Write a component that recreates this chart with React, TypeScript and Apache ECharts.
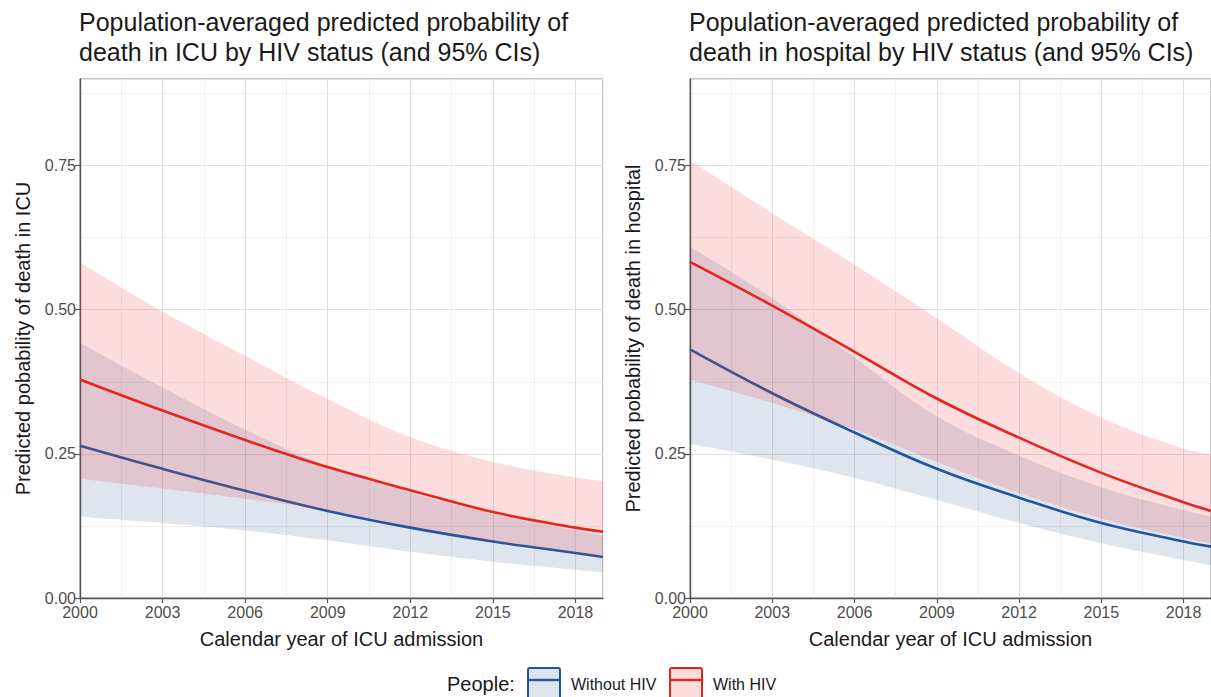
import React, { useEffect, useRef } from "react";
import * as echarts from "echarts";

// ---------- data ----------
const years = [2000, 2003, 2006, 2009, 2012, 2015, 2018, 2019];
const xTickLabels = [2000, 2003, 2006, 2009, 2012, 2015, 2018];
const yTickLabels = [0, 0.25, 0.5, 0.75];

// Panel 1: death in ICU
const icuWithHivMean = [0.379, 0.325, 0.274, 0.227, 0.187, 0.149, 0.122, 0.115];
const icuWithHivUpper = [0.582, 0.497, 0.42, 0.345, 0.279, 0.236, 0.209, 0.203];
const icuWithHivLower = [0.207, 0.19, 0.172, 0.152, 0.124, 0.099, 0.078, 0.071];
const icuWithoutMean = [0.264, 0.224, 0.186, 0.151, 0.122, 0.098, 0.078, 0.071];
const icuWithoutUpper = [0.442, 0.365, 0.292, 0.228, 0.183, 0.146, 0.117, 0.109];
const icuWithoutLower = [0.141, 0.13, 0.117, 0.1, 0.08, 0.063, 0.049, 0.044];

// Panel 2: death in hospital
const hospWithHivMean = [0.583, 0.507, 0.427, 0.346, 0.278, 0.217, 0.166, 0.151];
const hospWithHivUpper = [0.759, 0.667, 0.578, 0.485, 0.39, 0.313, 0.259, 0.25];
const hospWithHivLower = [0.379, 0.338, 0.292, 0.236, 0.182, 0.138, 0.104, 0.095];
const hospWithoutMean = [0.431, 0.355, 0.287, 0.224, 0.174, 0.13, 0.098, 0.089];
const hospWithoutUpper = [0.609, 0.52, 0.417, 0.315, 0.247, 0.192, 0.152, 0.141];
const hospWithoutLower = [0.267, 0.24, 0.208, 0.17, 0.13, 0.095, 0.066, 0.057];

const titles = [
  "Population-averaged predicted probability of\ndeath in ICU by HIV status (and 95% CIs)",
  "Population-averaged predicted probability of\ndeath in hospital by HIV status (and 95% CIs)",
];
const yNames = [
  "Predicted pobability of death in ICU",
  "Predicted pobability of death in hospital",
];
const xName = "Calendar year of ICU admission";
const legendTitle = "People:";
const groupNames = ["Without HIV", "With HIV"];

// ---------- styles ----------
const FONT = "'Liberation Sans', Arial, Helvetica, sans-serif";
const BLUE = "#23559c";
const RED = "#e3261e";
const BLUE_FILL = "rgba(40,80,150,0.15)";
const RED_FILL = "rgba(240,60,60,0.18)";
const MAJOR = "#e0e0e0";
const MINOR = "#efefef";
const AXIS = "#555555";
const YEAR_SCALE = 1000; // hidden linear "time" axis used so that bands stack on y

const panels = [
  {
    left: 80,
    withMean: icuWithHivMean, withUpper: icuWithHivUpper, withLower: icuWithHivLower,
    woMean: icuWithoutMean, woUpper: icuWithoutUpper, woLower: icuWithoutLower,
  },
  {
    left: 690,
    withMean: hospWithHivMean, withUpper: hospWithHivUpper, withLower: hospWithHivLower,
    woMean: hospWithoutMean, woUpper: hospWithoutUpper, woLower: hospWithoutLower,
  },
];

const pts = (arr: number[]) => years.map((y, i) => [y * YEAR_SCALE, arr[i]]);
const diff = (hi: number[], lo: number[]) =>
  years.map((y, i) => [y * YEAR_SCALE, +(hi[i] - lo[i]).toFixed(4)]);

function buildOption() {
  const grid: any[] = [];
  const xAxis: any[] = [];
  const yAxis: any[] = [];
  const series: any[] = [];
  const title: any[] = [];

  panels.forEach((p, k) => {
    grid.push({
      left: p.left, top: 79, width: 523, height: 519,
      show: true, borderColor: "#8a8a8a", borderWidth: 1, backgroundColor: "transparent",
    });
    title.push({
      text: titles[k], left: p.left - 1, top: 7, padding: 0,
      textStyle: { fontSize: 25, fontWeight: "normal", color: "#1a1a1a", lineHeight: 30, fontFamily: FONT },
    });
    // x: grid lines
    xAxis.push({
      type: "value", gridIndex: k, min: 2000, max: 2019, interval: 1.5, position: "bottom",
      axisLine: { show: false }, axisTick: { show: false }, axisLabel: { show: false },
      splitLine: { show: true, lineStyle: { color: [MAJOR, MINOR], width: 1 } },
    });
    // x: labels & ticks
    xAxis.push({
      type: "value", gridIndex: k, min: 2000, max: 2019, interval: 3, position: "bottom",
      axisLine: { show: true, onZero: false, lineStyle: { color: AXIS, width: 1.4 } },
      axisTick: { show: true, length: 5, lineStyle: { color: AXIS, width: 1.2 }, customValues: xTickLabels },
      axisLabel: {
        customValues: xTickLabels, color: "#4d4d4d", fontSize: 16, margin: 6, fontFamily: FONT,
        formatter: (v: number) => ((v - 2000) % 3 === 0 && v <= 2018 ? String(v) : ""),
      },
      splitLine: { show: false },
      name: xName, nameLocation: "middle", nameGap: 31,
      nameTextStyle: { fontSize: 20, color: "#1a1a1a", fontFamily: FONT },
    });
    // x: hidden linear axis carrying the series
    xAxis.push({
      type: "time", gridIndex: k, min: 2000 * YEAR_SCALE, max: 2019 * YEAR_SCALE, show: false,
    });
    // y: grid lines
    yAxis.push({
      type: "value", gridIndex: k, min: 0, max: 0.9, interval: 0.125, position: "left",
      axisLine: { show: false }, axisTick: { show: false }, axisLabel: { show: false },
      splitLine: { show: true, lineStyle: { color: [MAJOR, MINOR], width: 1 } },
    });
    // y: labels & ticks
    yAxis.push({
      type: "value", gridIndex: k, min: 0, max: 0.9, interval: 0.25, position: "left",
      axisLine: { show: true, onZero: false, lineStyle: { color: AXIS, width: 1.4 } },
      axisTick: { show: true, length: 5, lineStyle: { color: AXIS, width: 1.2 }, customValues: yTickLabels },
      axisLabel: {
        customValues: yTickLabels, color: "#4d4d4d", fontSize: 16, margin: 4, fontFamily: FONT,
        formatter: (v: number) => (yTickLabels.some((t) => Math.abs(t - v) < 1e-9) ? v.toFixed(2) : ""),
      },
      splitLine: { show: false },
      name: yNames[k], nameLocation: "middle", nameGap: 47,
      nameTextStyle: { fontSize: 20, color: "#1a1a1a", fontFamily: FONT },
    });

    const xi = 3 * k + 2;
    const yi = 2 * k + 1;
    const common = { type: "line", xAxisIndex: xi, yAxisIndex: yi, symbol: "none", smooth: 0.4, silent: true };

    // Without HIV band
    series.push({ ...common, name: "woBase" + k, stack: "wo" + k, data: pts(p.woLower), lineStyle: { opacity: 0, width: 0 }, z: 1 });
    series.push({
      ...common, name: "woBand" + k, stack: "wo" + k, data: diff(p.woUpper, p.woLower),
      lineStyle: { opacity: 0, width: 0 }, areaStyle: { color: BLUE_FILL, opacity: 1 }, z: 1,
    });
    // Without HIV line
    series.push({ ...common, name: groupNames[0] + k, data: pts(p.woMean), lineStyle: { color: BLUE, width: 2.6 }, z: 2 });
    // With HIV band
    series.push({ ...common, name: "wBase" + k, stack: "w" + k, data: pts(p.withLower), lineStyle: { opacity: 0, width: 0 }, z: 3 });
    series.push({
      ...common, name: "wBand" + k, stack: "w" + k, data: diff(p.withUpper, p.withLower),
      lineStyle: { opacity: 0, width: 0 }, areaStyle: { color: RED_FILL, opacity: 1 }, z: 3,
    });
    // With HIV line
    series.push({ ...common, name: groupNames[1] + k, data: pts(p.withMean), lineStyle: { color: RED, width: 2.6 }, z: 4 });
  });

  const KEY_Y = 668;
  const legendKey = (x: number, stroke: string, fill: string) => [
    { type: "rect", shape: { x, y: KEY_Y, width: 32, height: 36, r: 2 }, style: { fill: "#ffffff", stroke: "none" } },
    { type: "rect", shape: { x, y: KEY_Y, width: 32, height: 36, r: 2 }, style: { fill, stroke, lineWidth: 2 } },
    { type: "line", shape: { x1: x, y1: KEY_Y + 12, x2: x + 32, y2: KEY_Y + 12 }, style: { stroke, lineWidth: 2.4 } },
  ];

  const graphic: any[] = [
    { type: "text", x: 447, y: 684, style: { text: legendTitle, fontSize: 20, fill: "#1a1a1a", fontFamily: FONT, textVerticalAlign: "middle" } },
    ...legendKey(528, BLUE, BLUE_FILL),
    { type: "text", x: 571, y: 684, style: { text: groupNames[0], fontSize: 16, fill: "#1a1a1a", fontFamily: FONT, textVerticalAlign: "middle" } },
    ...legendKey(670, RED, RED_FILL),
    { type: "text", x: 713, y: 684, style: { text: groupNames[1], fontSize: 16, fill: "#1a1a1a", fontFamily: FONT, textVerticalAlign: "middle" } },
  ];

  return {
    animation: false,
    backgroundColor: "#ffffff",
    textStyle: { fontFamily: FONT },
    title,
    grid,
    xAxis,
    yAxis,
    series,
    graphic,
  };
}

export default function App() {
  const ref = useRef<HTMLDivElement>(null);
  useEffect(() => {
    if (!ref.current) return;
    const chart = echarts.init(ref.current, undefined, { renderer: "svg" });
    chart.setOption(buildOption() as any);
    return () => chart.dispose();
  }, []);
  return (
    <div
      ref={ref}
      style={{ position: "absolute", left: 0, top: 0, width: 1211, height: 697, overflow: "hidden", background: "#fff" }}
    />
  );
}
